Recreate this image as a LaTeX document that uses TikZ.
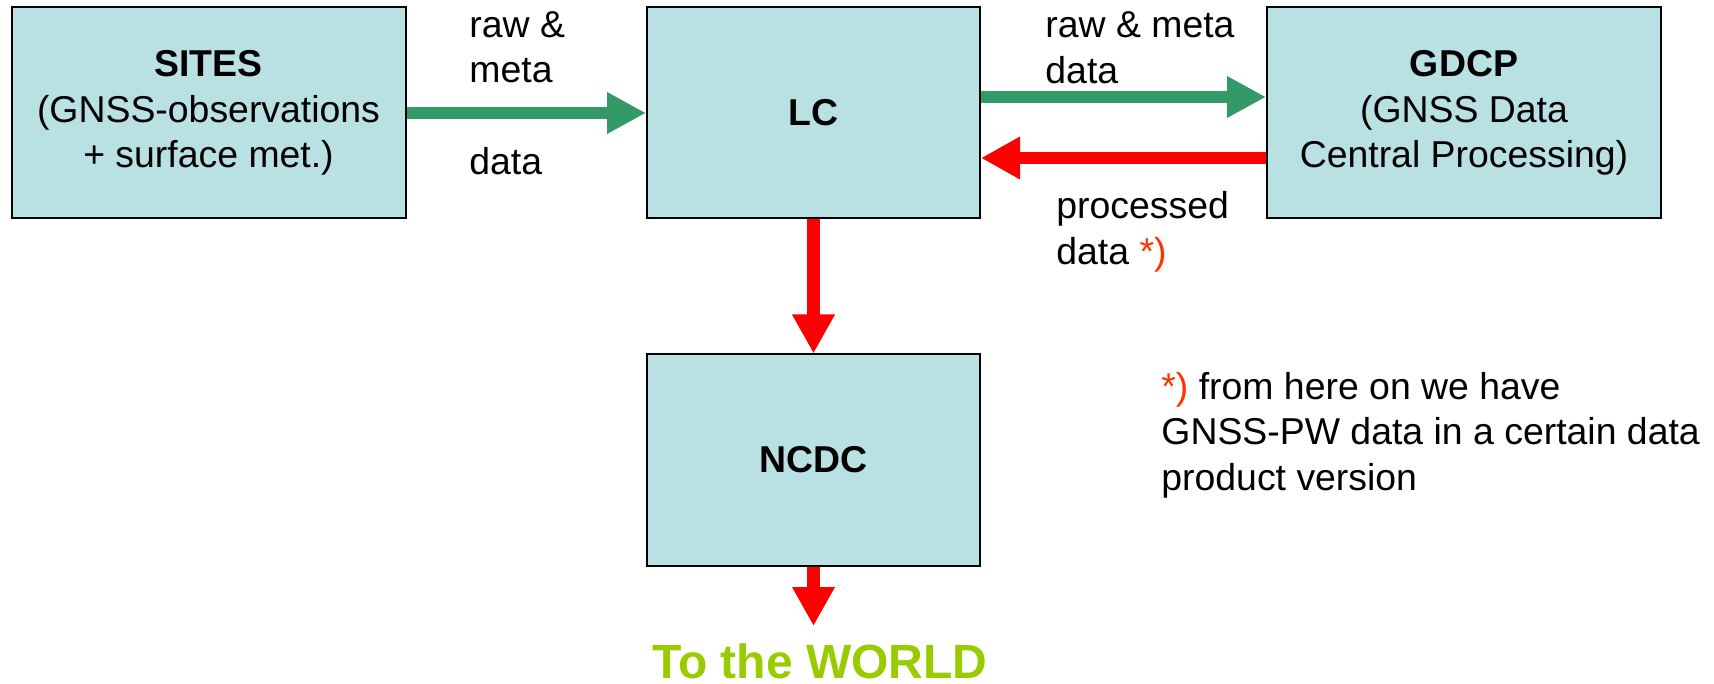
\documentclass[tikz,border=0pt]{standalone}
\usepackage{fontspec}
\setmainfont{Liberation Sans}
\usepackage{tikz}
\usetikzlibrary{arrows.meta,positioning}
\definecolor{boxfill}{RGB}{185,224,227}
\definecolor{flowgreen}{RGB}{51,153,102}
\definecolor{starred}{RGB}{255,51,0}
\definecolor{worldgreen}{RGB}{153,204,0}
\tikzset{%
	unit/.style={
		rectangle,
		draw=black,
		line width=1pt,
		fill=boxfill,
		align=center,
		minimum height=105.5pt
	},
	unit-wide/.style={ minimum width=197pt },
	unit-narrow/.style={ minimum width=166.5pt },
	flow-text/.style={ align=left, inner sep=0pt, anchor=west },
	flow-raw/.style={ draw=flowgreen, line width=6.25pt, -{Triangle[length=19.5pt,width=19.5pt]} },
	flow-out/.style={ draw=red, line width=6.25pt, -{Triangle[length=19.5pt,width=20pt]} },
}

\begin{document}
\begin{tikzpicture}[x=0.5pt, y=-0.5pt, font=\fontsize{18.7}{22.8}\selectfont]
\useasboundingbox (0,0) rectangle (1714,684);

% boxes
\node[unit, unit-wide] (sites) at (208.5,113) {\textbf{SITES}\\(GNSS-observations\\+ surface met.)};
\node[unit, unit-narrow] (lc) at (813.5,113) {\textbf{LC}};
\node[unit, unit-wide] (gdcp) at (1464,113) {\textbf{GDCP}\\(GNSS Data\\Central Processing)};
\node[unit, unit-narrow] (ncdc) at (813.5,460) {\textbf{NCDC}};
\node[inner sep=0pt, text=worldgreen, font=\fontsize{24}{28}\selectfont\bfseries] (world) at (820,661) {To the WORLD};
\coordinate (out) at (813.5,626);

% arrows
\draw[flow-raw] (sites.east) -- (lc.west);
\draw[flow-raw] ([yshift=8pt]lc.east) -- ([yshift=8pt]gdcp.west);
\draw[flow-out] ([yshift=-22.5pt]gdcp.west) -- ([yshift=-22.5pt]lc.east);
\draw[flow-out] (lc.south) -- (ncdc.north);
\draw[flow-out] (ncdc.south) -- (out);

% arrow labels
\node[flow-text] (raw-in) at (469,93) {raw \&\\meta\\[22.8pt]data};
\node[flow-text] (raw-out) at (1045,48) {raw \& meta\\data};
\node[flow-text] (processed) at (1056,232) {processed\\data \textcolor{starred}{*)}};

% footnote
\node[flow-text] (note) at (1161,435) {\textcolor{starred}{*)} from here on we have\\GNSS-PW data in a certain data\\product version};

\end{tikzpicture}
\end{document}
